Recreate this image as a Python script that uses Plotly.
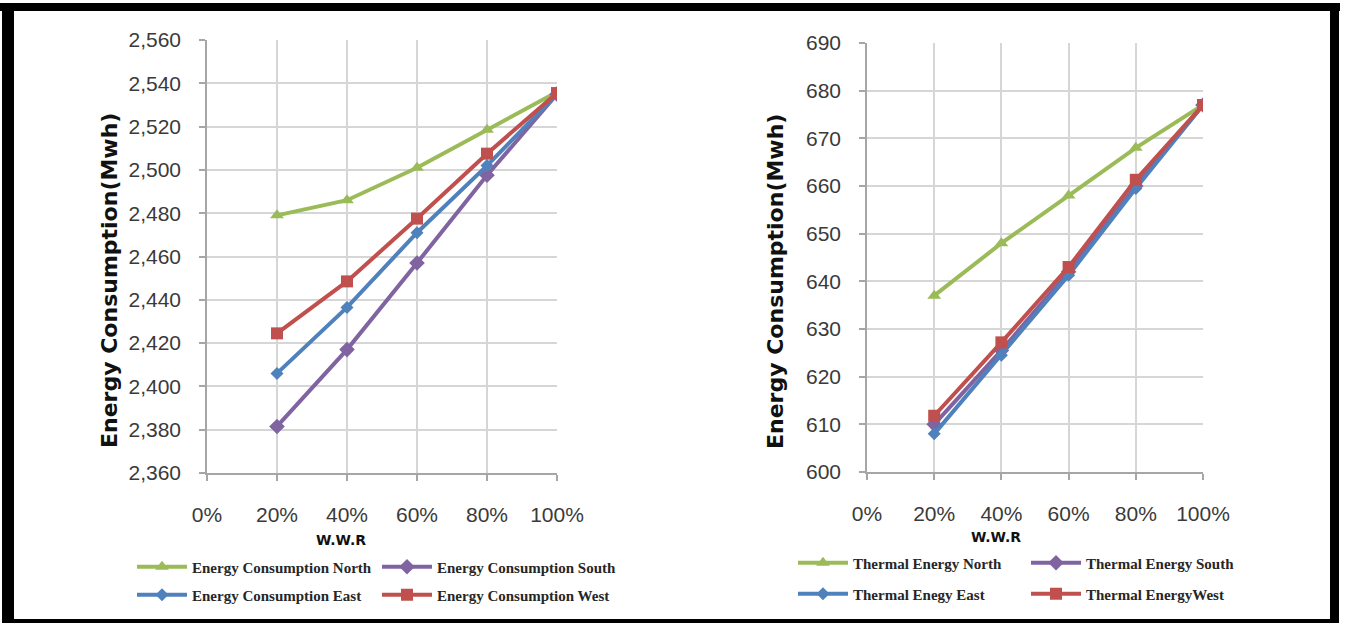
import plotly.graph_objects as go

W, H = 1345, 623

# ---------------- data ----------------
wwr = [20, 40, 60, 80, 100]
x_ticks = [0, 20, 40, 60, 80, 100]
x_tick_labels = ["0%", "20%", "40%", "60%", "80%", "100%"]

energy_north = [2479, 2486, 2501, 2518.5, 2536]
energy_south = [2381.5, 2417, 2457, 2497.5, 2535]
energy_east = [2406, 2436.5, 2471, 2502, 2535]
energy_west = [2424.5, 2448.5, 2477.5, 2507.5, 2535.5]

thermal_north = [637, 648, 658, 668, 677]
thermal_south = [610, 625.5, 642, 660, 677]
thermal_east = [608, 624.5, 641.3, 659.5, 677]
thermal_west = [611.8, 627.2, 643, 661.3, 677]

left_names = ["Energy Consumption North", "Energy Consumption South",
              "Energy Consumption East", "Energy Consumption West"]
right_names = ["Thermal Energy North", "Thermal Energy South",
               "Thermal Enegy East", "Thermal EnergyWest"]

left_y_ticks = list(range(2360, 2561, 20))
right_y_ticks = list(range(600, 691, 10))

# ---------------- styles ----------------
GREEN = "#9BBB59"
PURPLE = "#8064A2"
BLUE = "#4F81BD"
RED = "#C0504D"

series_style = [
    (GREEN, "triangle-up", 12),
    (PURPLE, "diamond", 12),
    (BLUE, "diamond", 10),
    (RED, "square", 12),
]


def px_x(p):
    return p / W


def px_y(p):
    return 1 - p / H


fig = go.Figure()

left_vals = [energy_north, energy_south, energy_east, energy_west]
right_vals = [thermal_north, thermal_south, thermal_east, thermal_west]

# legend positions (pixel: legend left x, row center y)
left_leg_pos = [(132, 567), (377, 567), (132, 595), (377, 595)]
right_leg_pos = [(793, 563), (1026, 563), (793, 594), (1026, 594)]

legend_layouts = {}
idx = 1
for vals, names, xa, ya, positions in [
    (left_vals, left_names, "x", "y", left_leg_pos),
    (right_vals, right_names, "x2", "y2", right_leg_pos),
]:
    for (color, sym, size), v, name, pos in zip(series_style, vals, names, positions):
        lname = "legend" if idx == 1 else f"legend{idx}"
        fig.add_trace(go.Scatter(
            x=wwr, y=v, name=name, mode="lines+markers",
            line=dict(color=color, width=4),
            marker=dict(symbol=sym, size=size, color=color),
            xaxis=xa, yaxis=ya, legend=lname, showlegend=True,
        ))
        legend_layouts[lname] = dict(
            x=px_x(pos[0]), y=px_y(pos[1]), xanchor="left", yanchor="middle",
            bgcolor="rgba(0,0,0,0)", borderwidth=0,
            font=dict(family="Liberation Serif", size=15, color="#262626",
                      weight="bold"),
            itemwidth=50, tracegroupgap=0,
        )
        idx += 1

tick_font = dict(family="Liberation Sans", size=21, color="#3A3A3A")
grid_color = "#D6D6D6"
axis_color = "#A6A6A6"

xaxis_common = dict(
    range=[0, 100], tickvals=x_ticks, ticktext=x_tick_labels,
    showgrid=True, gridcolor=grid_color, gridwidth=1.5,
    showline=True, linecolor=axis_color, linewidth=1.5,
    ticks="outside", ticklen=6, tickcolor=axis_color, tickwidth=1.5,
    tickfont=tick_font, ticklabelstandoff=16, zeroline=False,
    automargin=False,
)
yaxis_common = dict(
    showgrid=True, gridcolor=grid_color, gridwidth=1.5,
    showline=True, linecolor=axis_color, linewidth=1.5,
    ticks="outside", ticklen=6, tickcolor=axis_color, tickwidth=1.5,
    tickfont=tick_font, ticklabelstandoff=14, zeroline=False,
    automargin=False,
)

fig.update_layout(
    width=W, height=H,
    margin=dict(l=0, r=0, t=0, b=0, pad=0, autoexpand=False),
    paper_bgcolor="white", plot_bgcolor="white",
    xaxis=dict(domain=[px_x(207), px_x(557)], anchor="y", **xaxis_common),
    yaxis=dict(domain=[px_y(473), px_y(40)], anchor="x",
               range=[2360, 2560], tickvals=left_y_ticks, tickformat=",d",
               **yaxis_common),
    xaxis2=dict(domain=[px_x(867), px_x(1203)], anchor="y2", **xaxis_common),
    yaxis2=dict(domain=[px_y(472), px_y(43)], anchor="x2",
                range=[600, 690], tickvals=right_y_ticks, tickformat="d",
                **yaxis_common),
    **legend_layouts,
)

title_font = dict(family="DejaVu Sans", size=22, color="#111111")
wwr_font = dict(family="DejaVu Sans", size=14, color="#111111")
annotations = [
    dict(text="<b>Energy Consumption(Mwh)</b>", x=px_x(109), y=px_y(281),
         textangle=-90, font=title_font),
    dict(text="<b>Energy Consumption(Mwh)</b>", x=px_x(775), y=px_y(282),
         textangle=-90, font=title_font),
    dict(text="<b>W.W.R</b>", x=px_x(341), y=px_y(540), font=wwr_font),
    dict(text="<b>W.W.R</b>", x=px_x(996), y=px_y(537), font=wwr_font),
]
for a in annotations:
    a.update(xref="paper", yref="paper", showarrow=False,
             xanchor="center", yanchor="middle")
fig.update_layout(annotations=annotations)

# black frame around the figure
frame = [
    (0, 3, 1340, 11),     # top
    (2, 3, 14, 623),      # left
    (1330, 3, 1339, 623), # right
    (2, 619, 1339, 623),  # bottom
]
shapes = []
for x0, y0, x1, y1 in frame:
    shapes.append(dict(type="rect", xref="paper", yref="paper",
                       x0=px_x(x0), x1=px_x(x1), y0=px_y(y1), y1=px_y(y0),
                       fillcolor="black", line=dict(width=0), layer="above"))
fig.update_layout(shapes=shapes)

fig.write_html(
    "out.html",
    config={"displayModeBar": False},
    post_script="document.body.style.margin='0px';"
                "document.body.style.overflow='hidden';",
)
